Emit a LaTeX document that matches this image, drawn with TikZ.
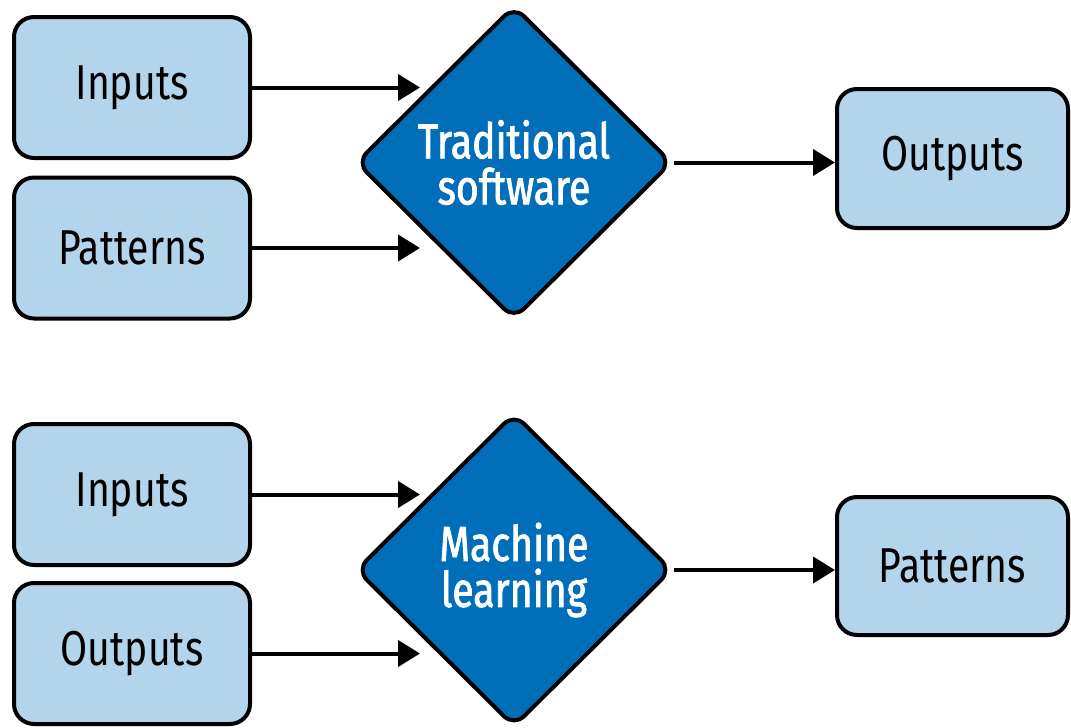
\documentclass[tikz,border=0pt]{standalone}
\usepackage{fontspec}
\setmainfont[FakeStretch=0.8]{Fira Sans}
\newfontfamily\procfont[FakeStretch=0.8, FakeBold=1.6]{Fira Sans}
\usepackage{tikz}
\usetikzlibrary{shapes.geometric,arrows.meta}

\definecolor{boxblue}{RGB}{179,213,235}
\definecolor{procblue}{RGB}{0,110,185}

\tikzset{
    databox/.style={draw=black, fill=boxblue, line width=4pt, rounded corners=20pt,
        minimum width=236pt, minimum height=141pt, inner sep=0pt,
        font=\fontsize{49}{46}\selectfont},
    process/.style={diamond, draw=black, fill=procblue, line width=4pt, rounded corners=14pt,
        minimum width=316pt, minimum height=314pt, inner sep=0pt, text=white, align=center,
        font=\procfont\fontsize{49}{46}\selectfont},
    flow/.style={line width=4pt, -{Triangle[length=22pt,width=26pt]}}
}

\begin{document}
\begin{tikzpicture}[x=1pt,y=1pt]
    \useasboundingbox (0,0) rectangle (1071,-728);

    % traditional software
    \node[databox] (in1) at (132,-87.5) {Inputs};
    \node[databox] (pat1) at (132,-248) {Patterns};
    \node[process] (trad) at (514,-162.5) {Traditional\\software};
    \node[databox, minimum width=231pt, minimum height=139pt] (out1) at (952.5,-158.5) {Outputs};

    \draw[flow, shorten >=14pt] (in1.east) -- (in1.east -| trad.north west);
    \draw[flow, shorten >=14pt] (pat1.east) -- (pat1.east -| trad.south west);
    \draw[flow] (trad.east) -- (trad.east -| out1.west);

    % machine learning
    \node[databox] (in2) at (132,-494.5) {Inputs};
    \node[databox] (out2) at (132,-653.5) {Outputs};
    \node[process] (ml) at (514,-570) {Machine\\learning};
    \node[databox, minimum width=231pt, minimum height=138pt] (pat2) at (952.5,-566) {Patterns};

    \draw[flow, shorten >=14pt] (in2.east) -- (in2.east -| ml.north west);
    \draw[flow, shorten >=14pt] (out2.east) -- (out2.east -| ml.south west);
    \draw[flow] (ml.east) -- (ml.east -| pat2.west);
\end{tikzpicture}
\end{document}
